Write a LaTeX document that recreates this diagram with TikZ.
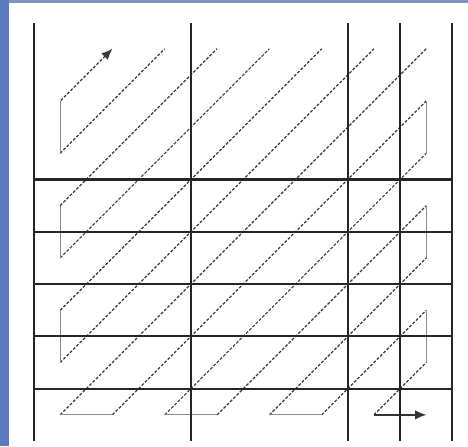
\documentclass[tikz,border=0pt]{standalone}
\usepackage{xcolor}
\usepackage{tikz}
\usetikzlibrary{arrows.meta}
\definecolor{slideblue}{HTML}{5B7BBE}
\definecolor{stripblue}{HTML}{7F93C2}
\definecolor{scangray}{HTML}{3A3A3A}

\tikzset{
    gridline/.style={line width=1.1pt, black!85},
    scan/.style={dash pattern=on 1.6pt off 0.9pt, line width=0.65pt, scangray},
    turn/.style={line width=0.5pt, black!45}
}

\begin{document}
\begin{tikzpicture}[x=1cm, y=1cm]
    % slide frame
    \useasboundingbox (-0.65, -0.096) rectangle (8.298, 8.432);
    \fill[white] (-0.65, -0.096) rectangle (8.298, 8.432);
    \fill[slideblue] (-0.65, -0.096) rectangle (-0.478, 8.432);
    \fill[stripblue] (-0.478, 8.375) rectangle (8.298, 8.432);

    % diagonals from the left edge
    \draw[scan, {Latex[length=6pt, width=5pt]}-] (1.5, 7.5) -- (0.5, 6.5);
    \foreach \c in {-5,...,0}
        \draw[scan] (0.5, 0.5-\c) -- (7.5+\c, 7.5);

    % diagonals from the bottom edge
    \foreach \c in {1,...,6}
        \draw[scan] (0.5+\c, 0.5) -- (7.5, 7.5-\c);

    % turns at the borders
    \foreach \a in {1,3,5} {
        \draw[turn] (0.5, \a+0.5) -- (0.5, \a+1.5);
        \draw[turn] (\a-0.5, 0.5) -- (\a+0.5, 0.5);
        \draw[turn] (7.5, \a+0.5) -- (7.5, \a+1.5);
    }

    % last step
    \draw[line width=0.7pt, black!80, -{Latex[length=6pt, width=5pt]}] (6.5, 0.5) -- (7.5, 0.5);

    % grid
    \foreach \x in {0,3,6,7,8}
        \draw[gridline] (\x, 0) -- (\x, 8);
    \foreach \y in {1,...,5}
        \draw[gridline] (0, \y) -- (8, \y);
\end{tikzpicture}
\end{document}
